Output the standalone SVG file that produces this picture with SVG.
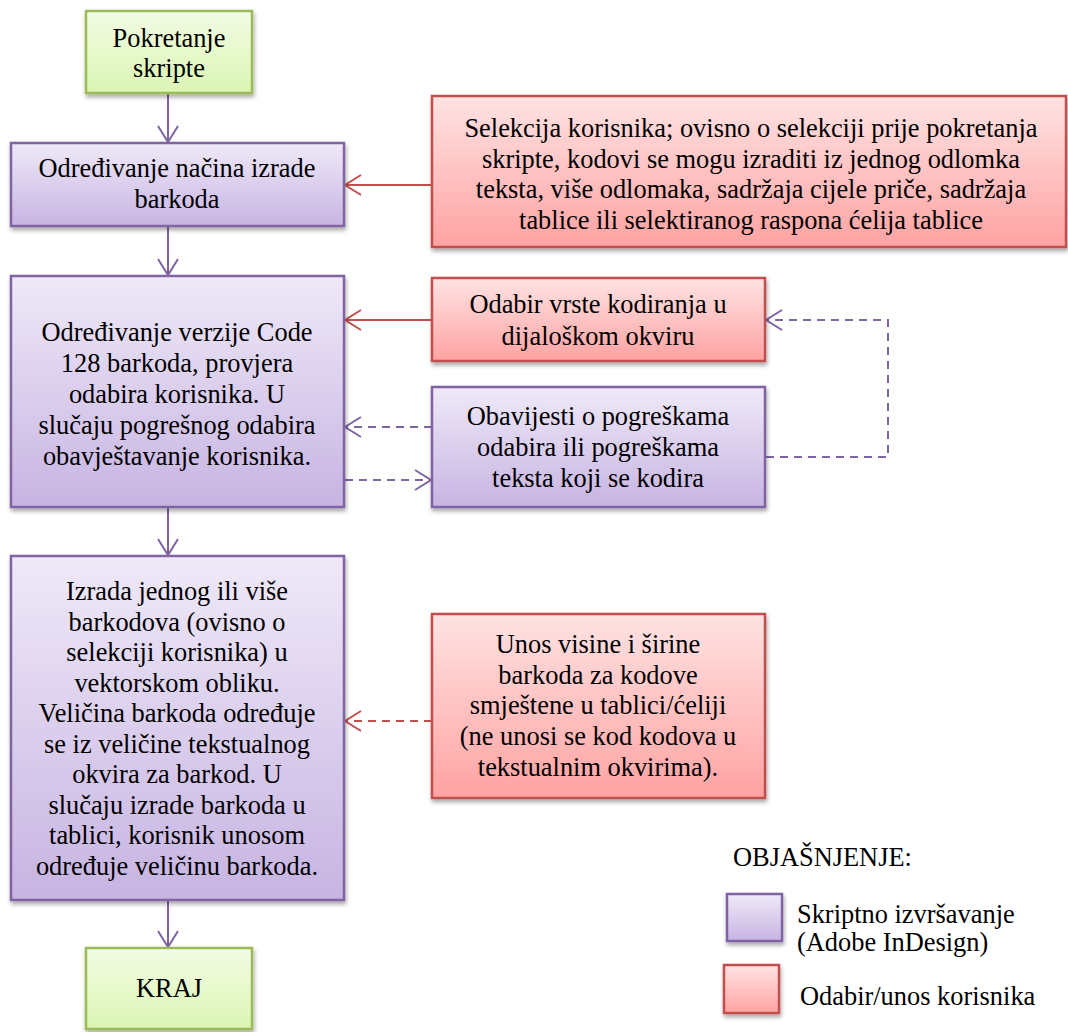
<svg xmlns="http://www.w3.org/2000/svg" width="1068" height="1032" viewBox="0 0 1068 1032" font-family="'Liberation Serif', 'DejaVu Serif', serif">
<style>
text{font-family:'Liberation Serif','DejaVu Serif',serif;font-size:26.4px;fill:#000;text-anchor:middle}
.lg{text-anchor:start}
.p{fill:url(#gp);stroke:#8064a2;stroke-width:2.5}
.r{fill:url(#gr);stroke:#c0504d;stroke-width:2.5}
.g{fill:url(#gg);stroke:#9bbb59;stroke-width:2.5}
.cp{stroke:#8064a2;stroke-width:2;fill:none}
.cr{stroke:#c0504d;stroke-width:2;fill:none}
.d{stroke-dasharray:8,6}
</style>
<defs>
<linearGradient id="gp" x1="0" y1="0" x2="0" y2="1"><stop offset="0" stop-color="#efe9f8"/><stop offset="1" stop-color="#c7b4e2"/></linearGradient>
<linearGradient id="gr" x1="0" y1="0" x2="0" y2="1"><stop offset="0" stop-color="#ffe3e3"/><stop offset="1" stop-color="#ffa2a2"/></linearGradient>
<linearGradient id="gg" x1="0" y1="0" x2="0" y2="1"><stop offset="0" stop-color="#f3fce6"/><stop offset="1" stop-color="#daf5b2"/></linearGradient>
<filter id="sh" x="-10%" y="-10%" width="120%" height="130%"><feDropShadow dx="1" dy="3" stdDeviation="2" flood-color="#000" flood-opacity="0.35"/></filter>
<marker id="ap" markerUnits="userSpaceOnUse" markerWidth="22" markerHeight="24" refX="17" refY="11" orient="auto"><path d="M1,1 L17,11 L1,21" fill="none" stroke="#8064a2" stroke-width="2"/></marker>
<marker id="ar" markerUnits="userSpaceOnUse" markerWidth="22" markerHeight="24" refX="17" refY="11" orient="auto"><path d="M1,1 L17,11 L1,21" fill="none" stroke="#c0504d" stroke-width="2"/></marker>
</defs>

<g id="connectors">
<line class="cp" x1="168" y1="94" x2="168" y2="142" marker-end="url(#ap)"/>
<line class="cp" x1="168" y1="227" x2="168" y2="275" marker-end="url(#ap)"/>
<line class="cp" x1="168" y1="508" x2="168" y2="555" marker-end="url(#ap)"/>
<line class="cp" x1="168" y1="901" x2="168" y2="947" marker-end="url(#ap)"/>
<line class="cr" x1="432" y1="185" x2="345" y2="185" marker-end="url(#ar)"/>
<line class="cr" x1="432" y1="320" x2="345" y2="320" marker-end="url(#ar)"/>
<line class="cp d" x1="432" y1="427" x2="345" y2="427" marker-end="url(#ap)"/>
<line class="cp d" x1="345" y1="480" x2="431" y2="480" marker-end="url(#ap)"/>
<polyline class="cp d" points="766,457 888,457 888,320 766,320" marker-end="url(#ap)"/>
<line class="cr d" x1="432" y1="721" x2="345" y2="721" marker-end="url(#ar)"/>
</g>

<g id="start">
<rect class="g" x="86" y="11" width="166" height="82" filter="url(#sh)"/>
<text x="169" y="47">Pokretanje</text>
<text x="169" y="77">skripte</text>
</g>

<g id="nacin">
<rect class="p" x="11" y="143" width="333" height="83" filter="url(#sh)"/>
<text x="177" y="177">Određivanje načina izrade</text>
<text x="177" y="208">barkoda</text>
</g>

<g id="selekcija">
<rect class="r" x="432" y="96" width="634" height="151" filter="url(#sh)"/>
<text x="751" y="137">Selekcija korisnika; ovisno o selekciji prije pokretanja</text>
<text x="751" y="168">skripte, kodovi se mogu izraditi iz jednog odlomka</text>
<text x="751" y="198">teksta, više odlomaka, sadržaja cijele priče, sadržaja</text>
<text x="751" y="229">tablice ili selektiranog raspona ćelija tablice</text>
</g>

<g id="verzija">
<rect class="p" x="11" y="276" width="333" height="231" filter="url(#sh)"/>
<text x="177" y="341">Određivanje verzije Code</text>
<text x="177" y="372">128 barkoda, provjera</text>
<text x="177" y="403">odabira korisnika. U</text>
<text x="177" y="434">slučaju pogrešnog odabira</text>
<text x="177" y="465">obavještavanje korisnika.</text>
</g>

<g id="odabir">
<rect class="r" x="432" y="278" width="333" height="83" filter="url(#sh)"/>
<text x="598" y="313">Odabir vrste kodiranja u</text>
<text x="598" y="345">dijaloškom okviru</text>
</g>

<g id="obavijesti">
<rect class="p" x="432" y="387" width="333" height="120" filter="url(#sh)"/>
<text x="598" y="425">Obavijesti o pogreškama</text>
<text x="598" y="456">odabira ili pogreškama</text>
<text x="598" y="487">teksta koji se kodira</text>
</g>

<g id="izrada">
<rect class="p" x="11" y="556" width="333" height="344" filter="url(#sh)"/>
<text x="177" y="600">Izrada jednog ili više</text>
<text x="177" y="630.5">barkodova (ovisno o</text>
<text x="177" y="661">selekciji korisnika) u</text>
<text x="177" y="691.5">vektorskom obliku.</text>
<text x="177" y="722">Veličina barkoda određuje</text>
<text x="177" y="752.5">se iz veličine tekstualnog</text>
<text x="177" y="783">okvira za barkod. U</text>
<text x="177" y="813.5">slučaju izrade barkoda u</text>
<text x="177" y="844">tablici, korisnik unosom</text>
<text x="177" y="874.5">određuje veličinu barkoda.</text>
</g>

<g id="unos">
<rect class="r" x="432" y="614" width="333" height="184" filter="url(#sh)"/>
<text x="598" y="653">Unos visine i širine</text>
<text x="598" y="684">barkoda za kodove</text>
<text x="598" y="714">smještene u tablici/ćeliji</text>
<text x="598" y="745">(ne unosi se kod kodova u</text>
<text x="598" y="776">tekstualnim okvirima).</text>
</g>

<g id="kraj">
<rect class="g" x="86" y="948" width="166" height="81" filter="url(#sh)"/>
<text x="169" y="997">KRAJ</text>
</g>

<g id="legend">
<text class="lg" x="733" y="866">OBJAŠNJENJE:</text>
<rect class="p" x="727" y="894" width="55" height="47" filter="url(#sh)"/>
<text class="lg" x="797" y="923">Skriptno izvršavanje</text>
<text class="lg" x="797" y="951">(Adobe InDesign)</text>
<rect class="r" x="724" y="965" width="55" height="48" filter="url(#sh)"/>
<text class="lg" x="800" y="1005">Odabir/unos korisnika</text>
</g>
</svg>
